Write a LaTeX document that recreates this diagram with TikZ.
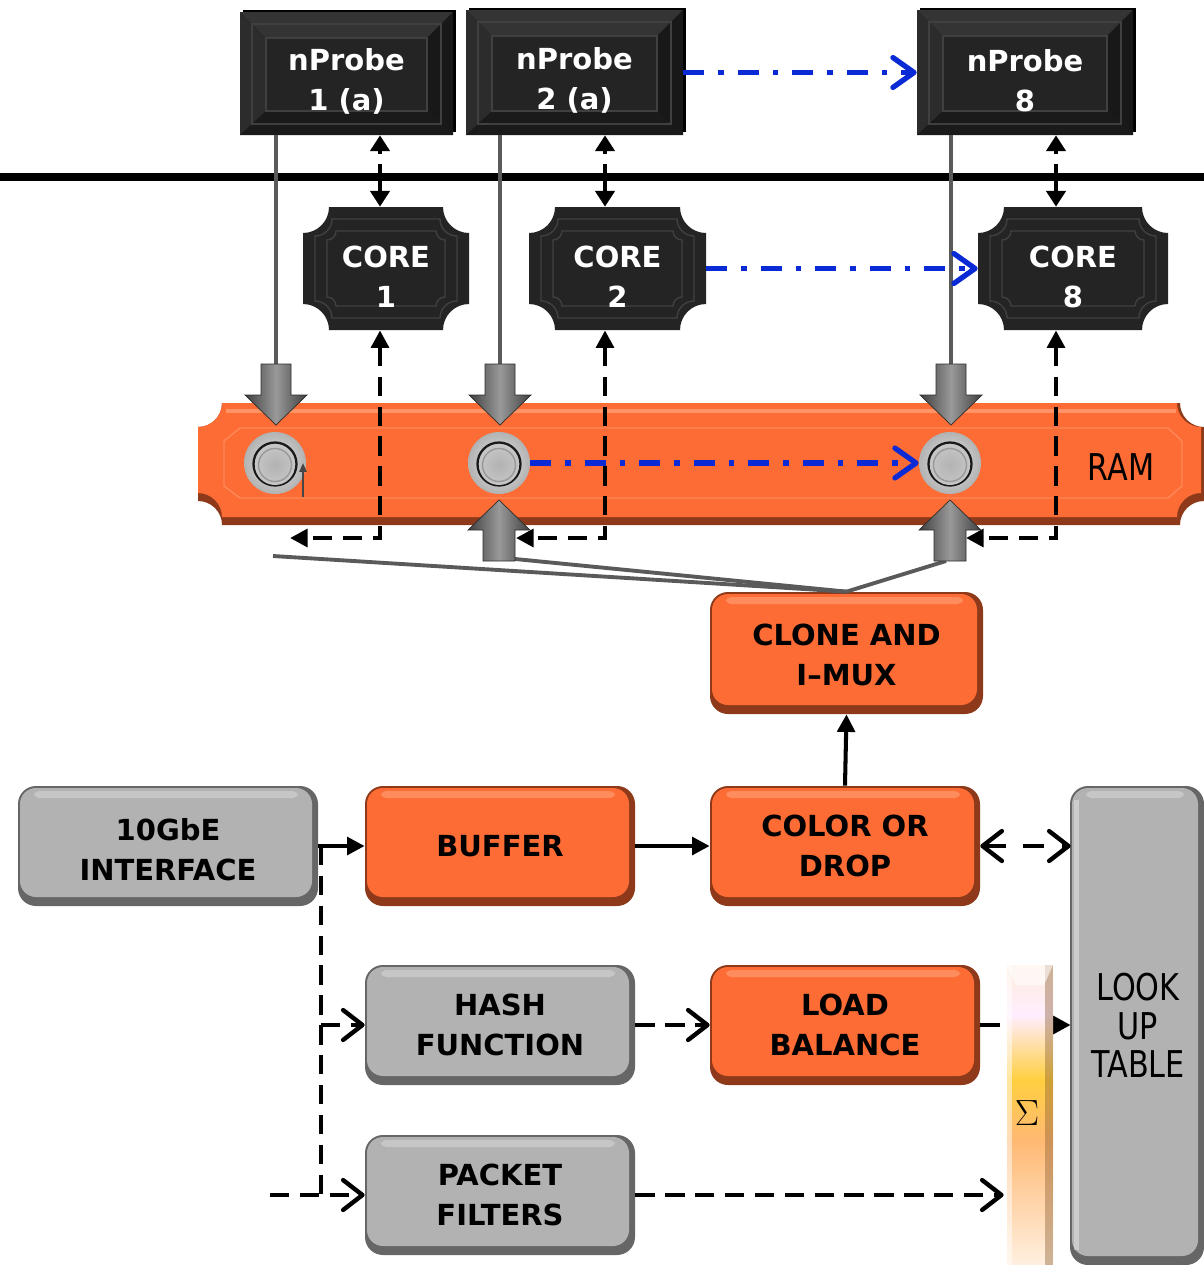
\documentclass[tikz,border=0pt]{standalone}
\usepackage{fontspec}
\newfontfamily\dvs{DejaVu Sans}
\newfontfamily\condf{DejaVu Sans}[FakeStretch=0.82]
\usetikzlibrary{arrows.meta}
\definecolor{org}{HTML}{FD6C35}
\definecolor{orgdark}{HTML}{8E3A1A}
\definecolor{orglight}{HTML}{FF9466}
\definecolor{gry}{HTML}{B2B2B2}
\definecolor{grydark}{HTML}{666666}
\definecolor{grylight}{HTML}{CBCBCB}
\definecolor{blk}{HTML}{242424}
\definecolor{bevtop}{HTML}{343434}
\definecolor{bevleft}{HTML}{2C2C2C}
\definecolor{bevright}{HTML}{181818}
\definecolor{bevbot}{HTML}{1A1A1A}
\definecolor{blkedge}{HTML}{404040}
\definecolor{bluec}{HTML}{0A2AD6}
\definecolor{linegray}{HTML}{5A5A5A}
% rounded 3D box: x0 y0 x1 y1 main dark light
\newcommand\rbox[7]{%
  \fill[#6,rounded corners=0.36cm] ({#1},{#2}) rectangle ({#3},{#4});
  \fill[#5,rounded corners=0.32cm] ({#1+2},{#2+2}) rectangle ({#3-6},{#4-9});
  \fill[#7,rounded corners=0.1cm,opacity=0.8] ({#1+16},{#2+5}) rectangle ({#3-20},{#2+12});
}
% concave-corner shape: x0 y0 x1 y1 r options
\newcommand\concshape[6]{%
  \path[#6] ({#1+#5},{#2}) -- ({#3-#5},{#2})
   .. controls ({#3-#5},{#2+0.552*#5}) and ({#3-0.552*#5},{#2+#5}) .. ({#3},{#2+#5})
   -- ({#3},{#4-#5})
   .. controls ({#3-0.552*#5},{#4-#5}) and ({#3-#5},{#4-0.552*#5}) .. ({#3-#5},{#4})
   -- ({#1+#5},{#4})
   .. controls ({#1+#5},{#4-0.552*#5}) and ({#1+0.552*#5},{#4-#5}) .. ({#1},{#4-#5})
   -- ({#1},{#2+#5})
   .. controls ({#1+0.552*#5},{#2+#5}) and ({#1+#5},{#2+0.552*#5}) .. ({#1+#5},{#2})
   -- cycle;}
% black bevelled box
\newcommand\bbox[4]{%
  \fill[black] ({#1+3},{#2-2}) rectangle ({#3+3},{#4-3});
  \fill[blk] ({#1},{#2}) rectangle ({#3},{#4});
  \fill[bevtop] ({#1},{#2}) -- ({#3},{#2}) -- ({#3-26},{#2+26}) -- ({#1+26},{#2+26}) -- cycle;
  \fill[bevleft] ({#1},{#2}) -- ({#1+26},{#2+26}) -- ({#1+26},{#4-24}) -- ({#1},{#4}) -- cycle;
  \fill[bevright] ({#3},{#2}) -- ({#3-26},{#2+26}) -- ({#3-26},{#4-24}) -- ({#3},{#4}) -- cycle;
  \fill[bevbot] ({#1},{#4}) -- ({#1+26},{#4-24}) -- ({#3-26},{#4-24}) -- ({#3},{#4}) -- cycle;
  \draw[blkedge,line width=0.8pt] ({#1+12},{#2+12}) rectangle ({#3-12},{#4-11});
  \draw[blkedge,line width=0.8pt] ({#1+26},{#2+26}) rectangle ({#3-26},{#4-24});
}
% concave black core box
\newcommand\cbox[4]{%
  \concshape{#1}{#2}{#3}{#4}{26}{fill=blk}
  \concshape{#1+12}{#2+12}{#3-12}{#4-12}{17}{draw=blkedge,line width=0.8pt}
  \concshape{#1+24}{#2+24}{#3-24}{#4-24}{9}{draw=blkedge,line width=0.8pt}
}
% grey button
\newcommand\btn[2]{%
  \shade[inner color=gray!20,outer color=gray!60] ({#1},{#2}) circle[radius=0.62cm];
  \draw[gray!20!black,line width=1.3pt] ({#1},{#2+1}) circle[radius=0.43cm];
  \shade[inner color=gray!60,outer color=gray!45] ({#1},{#2+2}) circle[radius=0.40cm];
  \draw[gray!80,line width=0.8pt] ({#1},{#2+2}) circle[radius=0.33cm];
}
\newcommand\darrow[1]{%
  \shade[left color=gray!50!black,right color=gray!50!black,middle color=gray!80,draw=gray!35!black,line width=0.4pt]
   ({#1-15},364) -- ({#1+15},364) -- ({#1+15},395) -- ({#1+31},395) -- ({#1},425) -- ({#1-31},395) -- ({#1-15},395) -- cycle;}
\newcommand\uarrow[1]{%
  \shade[left color=gray!50!black,right color=gray!50!black,middle color=gray!80,draw=gray!35!black,line width=0.4pt]
   ({#1-16},561) -- ({#1+16},561) -- ({#1+16},530) -- ({#1+31},530) -- ({#1},500) -- ({#1-31},530) -- ({#1-16},530) -- cycle;}
\begin{document}
\begin{tikzpicture}[x=0.02cm,y=-0.02cm,
  boxn/.style 2 args={inner sep=0pt,minimum width=#1*0.02cm,minimum height=#2*0.02cm,align=center},
  wtext/.style={text=white,align=center,font=\dvs\bfseries\fontsize{16.5}{22.8}\selectfont},
  btext/.style={text=black,align=center,font=\dvs\bfseries\fontsize{16.5}{22.8}\selectfont},
  ctext/.style={text=black,align=center,font=\condf\fontsize{21}{22}\selectfont},
  chevtip/.tip={Straight Barb[length=11pt,width=17pt,round]},
  tritip/.tip={Triangle[length=10pt,width=10pt]},
  smalltri/.tip={Triangle[length=9pt,width=11pt]},
  blkdash/.style={draw=black,line width=2.5pt,dash pattern=on 11pt off 6pt},
  blksolid/.style={draw=black,line width=2.3pt},
  blueflow/.style={draw=bluec,line width=3pt,dash pattern=on 12pt off 8pt on 3pt off 8pt},
  gline/.style={draw=linegray,line width=1.8pt},
  fanline/.style={draw=linegray,line width=2.2pt},
  bidash/.style={draw=black,line width=2pt,dash pattern=on 2pt off 6pt on 30pt},
]
\useasboundingbox (0,0) rectangle (1204,1265);
\fill[white] (0,0) rectangle (1204,1265);

% ---------- coordinates ----------
\coordinate (hl) at (0,177);
\coordinate (hr) at (1204,177);
\coordinate (c1) at (380,0);
\coordinate (c2) at (605,0);
\coordinate (c8) at (1056,0);
\coordinate (da1) at (276,364);
\coordinate (da2) at (500,364);
\coordinate (da8) at (951,364);
\coordinate (e1) at (290,538);
\coordinate (e2) at (516,538);
\coordinate (e8) at (966,538);
\coordinate (f1) at (273,556);
\coordinate (f2) at (515,559);
\coordinate (f8) at (946,561);
\coordinate (sa) at (303,497);
\coordinate (sb) at (303,463);
\coordinate (vx) at (321,0);
\coordinate (pin) at (270,1195);

% ---------- top boxes ----------
\bbox{240}{12}{453}{135}
\bbox{466}{10}{683}{135}
\bbox{917}{10}{1133}{135}
\node[boxn={213}{123}] (np1) at (346.5,73.5) {};
\node[boxn={217}{125}] (np2) at (574.5,72.5) {};
\node[boxn={216}{125}] (np8) at (1025,72.5) {};
\node[wtext,yshift=-0.16cm] (np1t) at (np1.center) {nProbe\\1 (a)};
\node[wtext,yshift=-0.16cm] (np2t) at (np2.center) {nProbe\\2 (a)};
\node[wtext,yshift=-0.16cm] (np8t) at (np8.center) {nProbe\\8};

\draw[draw=black,line width=4.5pt] (hl) -- (hr);

\cbox{303}{207}{469}{330}
\cbox{529}{207}{706}{330}
\cbox{978}{207}{1168}{330}
\node[boxn={166}{123}] (core1) at (386,268.5) {};
\node[boxn={177}{123}] (core2) at (617.5,268.5) {};
\node[boxn={190}{123}] (core8) at (1073,268.5) {};
\node[wtext,yshift=-0.16cm] (core1t) at (core1.center) {CORE\\1};
\node[wtext,yshift=-0.16cm] (core2t) at (core2.center) {CORE\\2};
\node[wtext,yshift=-0.16cm] (core8t) at (core8.center) {CORE\\8};

% grey lines nProbe -> RAM
\draw[gline] (np1.south -| da1) -- (da1);
\draw[gline] (np2.south -| da2) -- (da2);
\draw[gline] (np8.south -| da8) -- (da8);

% nProbe <-> core
\draw[bidash,arrows={smalltri-smalltri}] (np1.south -| c1) -- (core1.north -| c1);
\draw[bidash,arrows={smalltri-smalltri}] (np2.south -| c2) -- (core2.north -| c2);
\draw[bidash,arrows={smalltri-smalltri}] (np8.south -| c8) -- (core8.north -| c8);

% blue flows
\draw[blueflow,arrows={-Straight Barb[length=12pt,width=17pt,round]}] (np2.east) -- (np8.west);
\draw[blueflow,arrows={-Straight Barb[length=12pt,width=17pt,round]}] (core2.east) -- (core8.west);

% ---------- RAM ----------
\concshape{198}{403}{1204}{525}{24}{fill=orgdark}
\concshape{198}{403}{1201}{517}{24}{fill=org}
\draw[orglight,line width=2pt] (226,411) -- (1176,411);
\draw[orglight!70!org,line width=0.8pt] (240,428) -- (1168,428) -- (1182,441) -- (1182,486) -- (1168,498) -- (240,498) -- (224,486) -- (224,441) -- cycle;
\node[boxn={1006}{122}] (ram) at (701,464) {};
\node[ctext] (ramlbl) at (1121,467) {RAM};

\btn{275}{463}
\btn{499}{463}
\btn{950}{463}
\node[circle,inner sep=0pt,minimum size=1.24cm] (m1) at (275,463) {};
\node[circle,inner sep=0pt,minimum size=1.24cm] (m2) at (499,463) {};
\node[circle,inner sep=0pt,minimum size=1.24cm] (m8) at (950,463) {};
\draw[gray!55!black,line width=1pt,arrows={-Triangle[length=5pt,width=4pt]}] (sa) -- (sb);

\draw[blueflow,arrows={-Straight Barb[length=12pt,width=17pt,round]}] (m2.east) -- (m8.west);

% core -> ram dashed
\draw[blkdash,arrows={tritip-tritip}] (core1.south -| c1) |- (e1);
\draw[blkdash,arrows={tritip-tritip}] (core2.south -| c2) |- (e2);
\draw[blkdash,arrows={tritip-tritip}] (core8.south -| c8) |- (e8);

% ---------- lower boxes ----------
\rbox{710}{592}{983}{714}{org}{orgdark}{orglight}
\node[boxn={273}{122}] (clone) at (846.5,653) {};
\node[btext,yshift=-0.04cm] (clonet) at (clone.center) {CLONE AND\\I–MUX};

% fan lines
\draw[fanline] (clone.north) -- (f1);
\draw[fanline] (clone.north) -- (f2);
\draw[fanline] (clone.north) -- (f8);
\darrow{276}
\darrow{500}
\darrow{951}
\uarrow{499}
\uarrow{950}

\rbox{18}{786}{318}{906}{gry}{grydark}{grylight}
\rbox{365}{786}{635}{906}{org}{orgdark}{orglight}
\rbox{710}{786}{980}{906}{org}{orgdark}{orglight}
\rbox{365}{965}{635}{1085}{gry}{grydark}{grylight}
\rbox{710}{965}{980}{1085}{org}{orgdark}{orglight}
\rbox{365}{1135}{635}{1255}{gry}{grydark}{grylight}
\rbox{1070}{786}{1204}{1265}{gry}{grydark}{grylight}
\fill[white,opacity=0.35] (1074,800) rectangle (1079,1250);

\node[boxn={300}{120}] (gbe) at (168,846) {};
\node[btext,yshift=-0.08cm] (gbet) at (gbe.center) {10GbE\\INTERFACE};
\node[boxn={270}{120},btext] (buffer) at (500,846) {BUFFER};
\node[boxn={270}{120},btext] (color) at (845,846) {COLOR OR\\DROP};
\node[boxn={270}{120},btext] (hash) at (500,1025) {HASH\\FUNCTION};
\node[boxn={270}{120},btext] (load) at (845,1025) {LOAD\\BALANCE};
\node[boxn={270}{120},btext] (pkt) at (500,1195) {PACKET\\FILTERS};
\node[boxn={134}{479},ctext] (lut) at (1138,1025.5) {LOOK\\UP\\TABLE};

% connectors
\draw[blksolid,arrows={-tritip}] (gbe.east) -- (buffer.west);
\draw[blkdash] (gbe.east -| vx) -- (pkt.west -| vx);
\draw[blkdash,arrows={-chevtip}] (hash.west -| vx) -- (hash.west);
\draw[blkdash,arrows={-chevtip}] (pin) -- (pkt.west);
\draw[blksolid,arrows={-tritip}] (buffer.east) -- (color.west);
\draw[blksolid,arrows={-tritip}] (color.north) -- (clone.south);
\draw[blkdash,dash pattern=on 12pt off 10pt,arrows={chevtip-chevtip}] (color.east) -- (lut.west |- color.east);
\draw[blkdash,arrows={-chevtip}] (hash.east) -- (load.west);
\draw[blkdash,arrows={-tritip}] (load.east) -- (lut.west |- load.east);

% sigma bar
\shade[top color=orange!14!white,bottom color=magenta!7!white] (1007,965) rectangle (1053,1015);
\shade[top color=magenta!7!white,bottom color=orange!50!yellow!75!white] (1007,1015) rectangle (1053,1080);
\shade[top color=orange!50!yellow!75!white,bottom color=orange!55!white] (1007,1080) rectangle (1053,1140);
\shade[top color=orange!55!white,bottom color=orange!12!white] (1007,1140) rectangle (1053,1265);
\fill[white,opacity=0.5] (1007,965) rectangle (1012,1265);
\fill[brown!70!black,opacity=0.4] (1045,965) rectangle (1053,1265);
\fill[white,opacity=0.6] (1007,965) -- (1053,965) -- (1044,985) -- (1016,985) -- cycle;
\node[boxn={46}{300},font=\fontsize{21}{21}\selectfont] (sig) at (1027,1113) {$\Sigma$};

\draw[blkdash,arrows={-chevtip}] (pkt.east) -- (sig.west |- pkt.east);
\end{tikzpicture}
\end{document}
